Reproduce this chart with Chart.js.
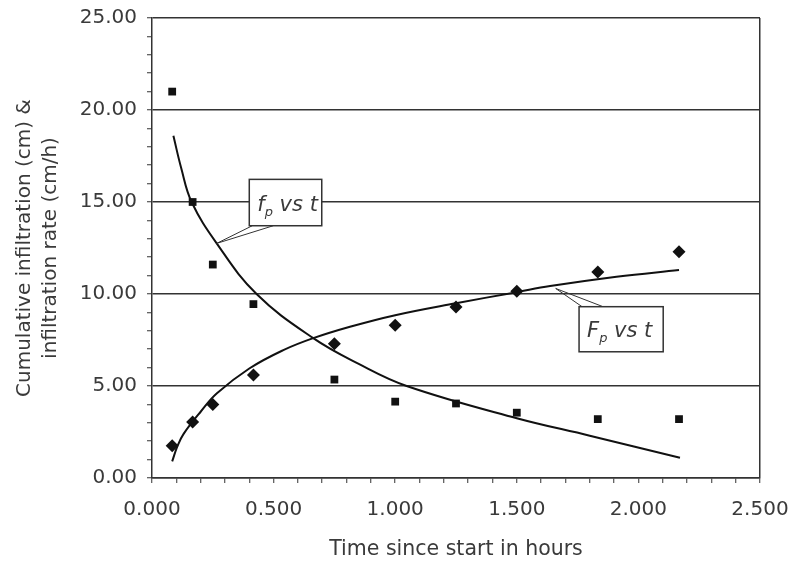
<!DOCTYPE html>
<html>
<head>
<meta charset="utf-8">
<script src="https://cdn.jsdelivr.net/npm/chart.js@4.4.1/dist/chart.umd.min.js"></script>
<style>
  html, body { margin: 0; padding: 0; background: #fff; }
  #wrap { width: 790px; height: 564px; }
</style>
</head>
<body>
<div id="wrap"><canvas id="chart" width="790" height="564"></canvas></div>
<script>
// observed points (time in hours)
const times = [0.083, 0.167, 0.25, 0.417, 0.75, 1.0, 1.25, 1.5, 1.833, 2.167]
const rateObs = [21.0, 15.0, 11.6, 9.45, 5.35, 4.15, 4.05, 3.55, 3.2, 3.2]
const cumObs = [1.75, 3.05, 4.0, 5.6, 7.3, 8.3, 9.3, 10.15, 11.2, 12.3]

// fitted curves
const rateFitT = [0.088, 0.12, 0.163, 0.266, 0.43, 0.663, 0.85, 1.047, 1.5, 1.8, 2.171]
const rateFit = [18.6, 16.85, 15.0, 12.75, 10.0, 7.6, 6.2, 5.0, 3.25, 2.3, 1.1]
const cumFitT = [0.083, 0.105, 0.13, 0.2, 0.267, 0.4, 0.54, 0.663, 0.814, 1.0, 1.25, 1.5, 1.637, 1.91, 2.167]
const cumFit = [0.9, 1.75, 2.4, 3.6, 4.6, 5.95, 6.95, 7.6, 8.22, 8.85, 9.5, 10.1, 10.43, 10.94, 11.3]

const xTickLabels = ['0.000', '0.500', '1.000', '1.500', '2.000', '2.500']
const yTickLabels = ['0.00', '5.00', '10.00', '15.00', '20.00', '25.00']

const ink = '#333'
const textInk = '#3a3a3a'
Chart.defaults.font.family = '"DejaVu Sans", sans-serif'
Chart.defaults.color = textInk

const pts = (xs, ys) => xs.map((v, i) => ({ x: v, y: ys[i] }))

// callout boxes, in data units: [x0, x1, yTop, yBottom], anchor on the curve
const callouts = [
  { main: 'f', sub: 'p', rest: ' vs t', box: [0.400, 0.698, 16.23, 13.71], anchor: [0.266, 12.75], side: 'bottom' },
  { main: 'F', sub: 'p', rest: ' vs t', box: [1.756, 2.102, 9.31, 6.86], anchor: [1.66, 10.3], side: 'top' }
]

const calloutPlugin = {
  id: 'callouts',
  afterDatasetsDraw (chart) {
    const { ctx, scales: { x, y } } = chart
    ctx.save()
    callouts.forEach(c => {
      const left = x.getPixelForValue(c.box[0])
      const right = x.getPixelForValue(c.box[1])
      const top = y.getPixelForValue(c.box[2])
      const bottom = y.getPixelForValue(c.box[3])
      const ax = x.getPixelForValue(c.anchor[0])
      const ay = y.getPixelForValue(c.anchor[1])
      const edge = c.side === 'bottom' ? bottom : top

      // leader (two thin strokes)
      ctx.strokeStyle = ink
      ctx.lineWidth = 1
      ctx.beginPath()
      ctx.moveTo(ax, ay)
      ctx.lineTo(left + 3, edge)
      ctx.moveTo(ax, ay)
      ctx.lineTo(left + 24, edge)
      ctx.stroke()

      ctx.fillStyle = '#fff'
      ctx.fillRect(left, top, right - left, bottom - top)
      ctx.lineWidth = 1.5
      ctx.strokeRect(left, top, right - left, bottom - top)

      const base = bottom - 15
      let tx = left + 8
      ctx.fillStyle = textInk
      ctx.textBaseline = 'alphabetic'
      ctx.font = 'italic 21px "DejaVu Sans"'
      ctx.fillText(c.main, tx, base)
      tx += ctx.measureText(c.main).width
      ctx.font = 'italic 13px "DejaVu Sans"'
      ctx.fillText(c.sub, tx, base + 5)
      tx += ctx.measureText(c.sub).width
      ctx.font = 'italic 21px "DejaVu Sans"'
      ctx.fillText(c.rest, tx, base)
    })
    ctx.restore()
  }
}

const near = (a, b) => Math.abs(a - b) < 1e-6

const curve = data => ({
  data,
  showLine: true,
  borderColor: '#111',
  borderWidth: 2,
  pointRadius: 0,
  tension: 0.4
})

new Chart(document.getElementById('chart'), {
  type: 'scatter',
  data: {
    datasets: [
      curve(pts(rateFitT, rateFit)),
      curve(pts(cumFitT, cumFit)),
      {
        label: 'fp',
        data: pts(times, rateObs),
        pointStyle: 'rect',
        pointRadius: 5.5,
        backgroundColor: '#111',
        borderColor: '#111',
        borderWidth: 0
      },
      {
        label: 'Fp',
        data: pts(times, cumObs),
        pointStyle: 'rectRot',
        pointRadius: 6.5,
        backgroundColor: '#111',
        borderColor: '#111',
        borderWidth: 0
      }
    ]
  },
  options: {
    responsive: false,
    animation: false,
    devicePixelRatio: 1,
    layout: { padding: { top: 18, right: 30, left: 0, bottom: 0 } },
    plugins: {
      legend: { display: false },
      tooltip: { enabled: false }
    },
    scales: {
      x: {
        type: 'linear',
        min: 0,
        max: 2.5,
        afterFit: scale => {
          scale.height = 86
          scale.paddingLeft = 0
          scale.paddingRight = 0
        },
        ticks: {
          stepSize: 0.1,
          autoSkip: false,
          maxRotation: 0,
          padding: 15,
          font: { size: 20 },
          color: textInk,
          callback: value => {
            const i = Math.round(value * 2)
            return near(value * 2, i) ? xTickLabels[i] : ''
          }
        },
        grid: {
          color: c => (c.tick && near(c.tick.value, 2.5) ? ink : 'rgba(0,0,0,0)'),
          lineWidth: 1.5,
          tickColor: ink,
          tickLength: 5,
          tickWidth: 1
        },
        border: { color: ink, width: 1.5 },
        title: {
          display: true,
          text: 'Time since start in hours',
          font: { size: 20.5 },
          color: textInk,
          padding: { top: 0, bottom: 2 }
        }
      },
      y: {
        min: 0,
        max: 25,
        afterFit: scale => {
          scale.width = 152
          scale.paddingTop = 0
          scale.paddingBottom = 0
        },
        ticks: {
          stepSize: 1,
          autoSkip: false,
          padding: 10,
          font: { size: 20 },
          color: textInk,
          callback: value => (value % 5 === 0 ? yTickLabels[value / 5] : '')
        },
        grid: {
          color: c => (c.tick && c.tick.value % 5 === 0 ? ink : 'rgba(0,0,0,0)'),
          lineWidth: 1.5,
          tickColor: ink,
          tickLength: 5,
          tickWidth: 1
        },
        border: { color: ink, width: 1.5 },
        title: {
          display: true,
          text: ['Cumulative infiltration (cm) &', 'infiltration rate (cm/h)'],
          font: { size: 20, lineHeight: 1.3 },
          color: textInk,
          padding: { top: 12, bottom: 0 }
        }
      }
    }
  },
  plugins: [calloutPlugin]
})
</script>
</body>
</html>
